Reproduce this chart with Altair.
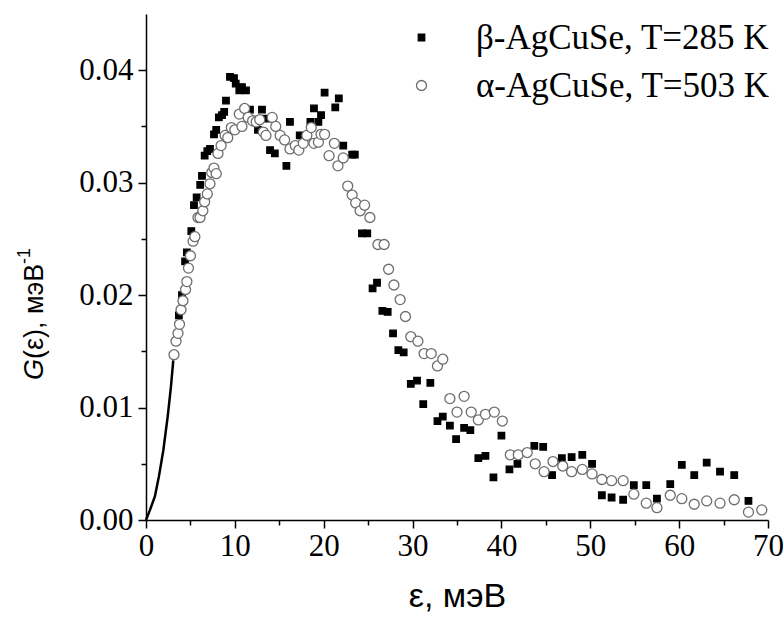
import altair as alt
import pandas as pd

# ---- data ----
beta_label = "β-AgCuSe, T=285 K"
alpha_label = "α-AgCuSe, T=503 K"

beta_x = [3.7, 4.05, 4.4, 4.6, 5.1, 5.4, 5.7, 6.1, 6.3, 6.6, 6.9, 7.2, 7.65, 7.9, 8.2, 8.55, 8.8, 9.0,
          9.45, 9.9, 10.1, 10.5, 10.8, 11.25, 11.7, 12.2, 12.6, 13.05, 13.5, 13.96, 14.5, 15.8, 16.2,
          17.3, 18.5, 18.9, 19.4, 19.7, 20.1, 21.3, 21.7, 22.2, 23.2, 23.5, 24.3, 24.9, 25.5, 26.0,
          26.6, 27.2, 27.8, 28.4, 29.0, 29.8, 30.5, 31.2, 32.0, 32.8, 33.4, 34.2, 34.9, 35.8, 36.5,
          37.4, 38.2, 39.1, 40.0, 40.9, 41.8, 43.7, 44.7, 45.7, 46.8, 47.9, 49.1, 50.2, 51.3, 52.4,
          53.7, 54.9, 56.3, 57.5, 59.0, 60.3, 61.7, 63.1, 64.6, 66.2, 67.8]
beta_y = [0.0182, 0.0200, 0.0230, 0.0238, 0.0257, 0.0280, 0.0287, 0.0298, 0.0306, 0.0324, 0.0328, 0.0330,
          0.0343, 0.0347, 0.0358, 0.0360, 0.0363, 0.0373, 0.0394, 0.0393, 0.0388, 0.0382, 0.0385, 0.0382,
          0.0365, 0.0356, 0.0347, 0.0365, 0.0357, 0.0329, 0.0326, 0.0315, 0.0354, 0.0342, 0.0354, 0.0366,
          0.0354, 0.0360, 0.0380, 0.0367, 0.0375, 0.0333, 0.0325, 0.0325, 0.0255, 0.0255, 0.0206, 0.0211,
          0.0186, 0.0185, 0.0166, 0.0151, 0.0149, 0.0121, 0.0124, 0.0103, 0.0122, 0.0088, 0.0092, 0.0084,
          0.0072, 0.0082, 0.0080, 0.0055, 0.0057, 0.0038, 0.0075, 0.0045, 0.0050, 0.0066, 0.0065, 0.0040,
          0.0055, 0.0056, 0.0058, 0.0050, 0.0022, 0.0020, 0.0018, 0.0031, 0.0031, 0.0019, 0.0032, 0.0049,
          0.0040, 0.0051, 0.0043, 0.0040, 0.0017]

alpha_x = [3.15, 3.38, 3.6, 3.77, 3.94, 4.16, 4.45, 4.6, 4.78, 5.0, 5.3, 5.5, 5.85, 6.08, 6.4, 6.6, 6.9,
           7.2, 7.4, 7.65, 7.9, 8.1, 8.45, 8.9, 9.2, 9.6, 10.0, 10.5, 10.8, 11.1, 11.5, 12.0, 12.4, 12.8,
           13.2, 13.5, 14.2, 14.6, 15.1, 15.6, 16.2, 16.8, 17.2, 17.7, 18.1, 18.6, 18.9, 19.4, 19.7, 20.1,
           20.6, 21.2, 21.6, 22.2, 22.7, 23.2, 23.6, 24.1, 24.6, 25.2, 26.1, 26.8, 27.3, 27.9, 28.6, 29.2,
           29.8, 30.6, 31.3, 32.1, 32.8, 33.4, 34.2, 35.0, 35.8, 36.6, 37.4, 38.2, 39.2, 40.1, 41.0, 41.9,
           42.9, 43.8, 44.8, 45.8, 46.9, 47.9, 49.1, 50.2, 51.3, 52.4, 53.7, 54.9, 56.3, 57.5, 59.0, 60.3,
           61.7, 63.1, 64.6, 66.2, 67.8, 69.3]
alpha_y = [0.0147, 0.0159, 0.0166, 0.0174, 0.0187, 0.0195, 0.0205, 0.0212, 0.0224, 0.0235, 0.0248, 0.0252,
           0.0269, 0.0269, 0.0275, 0.0283, 0.0290, 0.0299, 0.0309, 0.0313, 0.0308, 0.0326, 0.0333, 0.0342,
           0.0340, 0.0349, 0.0347, 0.0361, 0.0350, 0.0366, 0.0358, 0.0355, 0.0354, 0.0356, 0.0345, 0.0342,
           0.0358, 0.0350, 0.0342, 0.0338, 0.0330, 0.0333, 0.0329, 0.0335, 0.0342, 0.0349, 0.0335, 0.0336,
           0.0343, 0.0343, 0.0324, 0.0335, 0.0315, 0.0322, 0.0297, 0.0289, 0.0282, 0.0275, 0.0280, 0.0269,
           0.0245, 0.0245, 0.0223, 0.0209, 0.0196, 0.0181, 0.0163, 0.0159, 0.0148, 0.0148, 0.0137, 0.0143,
           0.0108, 0.0096, 0.0110, 0.0096, 0.0089, 0.0094, 0.0096, 0.0088, 0.0058, 0.0058, 0.0060, 0.0050,
           0.0043, 0.0052, 0.0048, 0.0043, 0.0045, 0.0041, 0.0036, 0.0035, 0.0035, 0.0023, 0.0015, 0.0011,
           0.0022, 0.0019, 0.0014, 0.0017, 0.0015, 0.0018, 0.0007, 0.0009]

curve_x = [0.0, 0.45, 1.0, 1.46, 1.95, 2.44, 2.8, 3.07]
curve_y = [0.0, 0.0009, 0.0021, 0.0039, 0.0062, 0.0092, 0.0118, 0.0142]

x_ticks = [0, 5, 10, 15, 20, 25, 30, 35, 40, 45, 50, 55, 60, 65, 70]
y_ticks = [0.0, 0.005, 0.01, 0.015, 0.02, 0.025, 0.03, 0.035, 0.04]
y_title_parts = ["G", "(ε),  мэВ", "-1"]
x_title = "ε, мэВ"

# ---- tables ----
pts = pd.DataFrame({
    "x": beta_x + alpha_x,
    "y": beta_y + alpha_y,
    "s": [beta_label] * len(beta_x) + [alpha_label] * len(alpha_x),
})
curve = pd.DataFrame({"x": curve_x, "y": curve_y})

W, H = 622, 506
serif = "Liberation Serif"
sans = "Liberation Sans"

xscale = alt.Scale(domain=[0, 70], nice=False, zero=False)
yscale = alt.Scale(domain=[0, 0.045], nice=False)
dom = [beta_label, alpha_label]

xaxis = alt.Axis(
    values=x_ticks, title=x_title, labelExpr="datum.value % 10 === 0 ? datum.label : ''",
    format="d", grid=False, labelFont=serif, labelFontSize=31, labelColor="black",
    titleFont=sans, titleFontSize=34, titleFontWeight="normal", titleColor="black",
    titlePadding=18, labelPadding=3, domainColor="black", domainWidth=1.5,
    tickColor="black", tickWidth=1.5, labelFlush=False, labelOverlap=False,
    tickSize={"condition": {"test": "datum.value % 10 === 0", "value": 8}, "value": 5},
)
yaxis = alt.Axis(
    values=y_ticks, title=None, format=".2f",
    labelExpr="round(datum.value * 1000) % 10 === 0 ? datum.label : ''",
    grid=False, labelFont=serif, labelFontSize=31, labelColor="black", labelPadding=5,
    domainColor="black", domainWidth=1.5, tickColor="black", tickWidth=1.5,
    labelFlush=False, labelOverlap=False,
    tickSize={"condition": {"test": "round(datum.value * 1000) % 10 === 0", "value": 8}, "value": 5},
)

points = alt.Chart(pts).mark_point(filled=True, opacity=1, strokeWidth=1.3).encode(
    x=alt.X("x:Q", scale=xscale, axis=xaxis),
    y=alt.Y("y:Q", scale=yscale, axis=yaxis),
    shape=alt.Shape("s:N", scale=alt.Scale(domain=dom, range=["square", "circle"]), title=None),
    fill=alt.Fill("s:N", scale=alt.Scale(domain=dom, range=["black", "white"]), title=None),
    stroke=alt.Stroke("s:N", scale=alt.Scale(domain=dom, range=["black", "#6e6e6e"]), title=None),
    size=alt.Size("s:N", scale=alt.Scale(domain=dom, range=[42, 100]), title=None),
)

line = alt.Chart(curve).mark_line(color="black", strokeWidth=2.5).encode(
    x=alt.X("x:Q", scale=xscale), y=alt.Y("y:Q", scale=yscale)
)

tdf = pd.DataFrame({"t": y_title_parts})
g_txt = alt.Chart(tdf.iloc[[0]]).mark_text(
    angle=270, align="left", baseline="middle", font=sans, fontSize=27,
    fontStyle="italic", color="black"
).encode(text="t:N", x=alt.value(-111), y=alt.value(366))
rest_txt = alt.Chart(tdf.iloc[[1]]).mark_text(
    angle=270, align="left", baseline="middle", font=sans, fontSize=27, color="black"
).encode(text="t:N", x=alt.value(-111), y=alt.value(345))
sup_txt = alt.Chart(tdf.iloc[[2]]).mark_text(
    angle=270, align="left", baseline="middle", font=sans, fontSize=18, color="black"
).encode(text="t:N", x=alt.value(-121), y=alt.value(250))

chart = alt.layer(line, points, g_txt, rest_txt, sup_txt).properties(
    width=W, height=H,
    autosize=alt.AutoSizeParams(type="none"),
    padding={"left": 146, "top": 14, "right": 16, "bottom": 101},
).configure_view(stroke=None).configure_legend(
    orient="none", legendX=258, legendY=6, title=None, labelFont=serif, labelFontSize=35,
    labelColor="black", labelOffset=37, rowPadding=12, padding=0, symbolStrokeWidth=1.3,
    labelLimit=0,
)

chart.save("out.html", embed_options={"renderer": "svg", "actions": False})
